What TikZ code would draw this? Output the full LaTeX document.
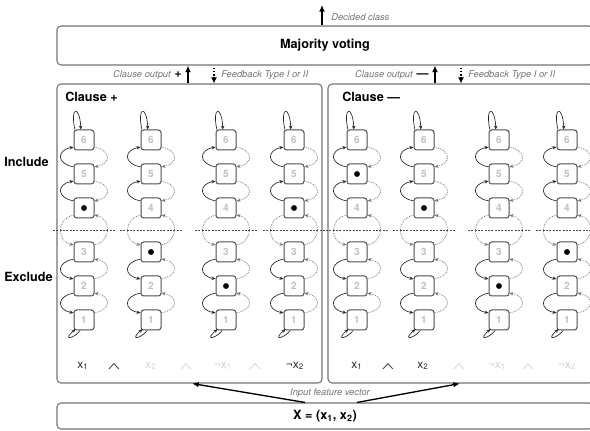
\documentclass[tikz,border=0pt]{standalone}
\usepackage{fontspec}
\setmainfont{TeX Gyre Heros}
\usetikzlibrary{arrows.meta,calc}
\begin{document}
\begin{tikzpicture}[x=0.75pt,y=-0.75pt,
  >={Stealth[length=3pt,width=2.6pt]},
  panel/.style={draw=black!55,line width=0.8pt,rounded corners=3pt,inner sep=0pt},
  st/.style={draw=black!70,line width=0.75pt,rounded corners=2pt,minimum size=15pt,inner sep=0pt,font=\fontsize{7.5}{8}\selectfont\bfseries,text=black!25},
  solarc/.style={draw=black!85,line width=0.5pt},
  dotarc/.style={draw=black!55,line width=0.5pt,dash pattern=on 0.7pt off 0.7pt},
  solup/.style={solarc,<-},
  soldn/.style={solarc,->},
  dotup/.style={dotarc,<-},
  dotdn/.style={dotarc,->},
  hline/.style={draw=black!70,line width=0.5pt,dash pattern=on 1.5pt off 1pt},
  lbl/.style={font=\fontsize{7}{8}\selectfont\itshape,text=black!55,inner sep=0pt},
  hdr/.style={font=\fontsize{9.5}{11}\selectfont\bfseries,inner sep=0pt},
  litdark/.style={font=\fontsize{9}{10}\selectfont,text=black!85,inner sep=0pt},
  litlight/.style={font=\fontsize{9}{10}\selectfont,text=black!18,inner sep=0pt},
  bigarr/.style={draw=black,line width=1.2pt,-{Latex[length=5pt,width=4.5pt]}},
  fbarr/.style={draw=black,line width=0.9pt,dash pattern=on 1.2pt off 1.2pt,-{Latex[length=4.5pt,width=4.5pt]}},
  inarr/.style={draw=black,line width=1pt,-{Latex[length=5pt,width=4pt]}}
]
\path[use as bounding box] (0,0) rectangle (590,431);
\clip (0,0) rectangle (590,431);

% main boxes
\node[panel,hdr,minimum width=402pt,minimum height=29.25pt] (mv) at (325,45.5) {Majority voting};
\node[panel,minimum width=198.75pt,minimum height=224.25pt] (cp) at (189.5,233.5) {};
\node[panel,minimum width=198.75pt,minimum height=224.25pt] (cm) at (460.5,233.5) {};
\node[panel,hdr,minimum width=402pt,minimum height=19.5pt] (xin) at (325,416) {X = (x\textsubscript{1}, x\textsubscript{2})};

% top arrows and labels
\coordinate (dc) at (322,5);
\draw[bigarr] ([xshift=-2.25pt]mv.north) -- (dc);
\node[lbl,anchor=west] (dcl) at (331,17) {Decided class};

\draw[bigarr] ([xshift=-1.125pt]cp.north) -- ([xshift=-1.125pt]cp.north |- mv.south);
\draw[fbarr] ([xshift=18.375pt,yshift=-1.5pt]cp.north |- mv.south) -- ([xshift=18.375pt]cp.north);
\node[lbl,anchor=east] (cop) at (182,75.5) {Clause output\hspace{3pt}{\upshape\bfseries\color{black}\fontsize{9}{9}\selectfont +}};
\node[lbl,anchor=west] (fbp) at (221,75.5) {Feedback Type I or II};

\draw[bigarr] ([xshift=-19.125pt]cm.north) -- ([xshift=-19.125pt]cm.north |- mv.south);
\draw[fbarr] ([xshift=0.375pt,yshift=-1.5pt]cm.north |- mv.south) -- ([xshift=0.375pt]cm.north);
\node[lbl,anchor=east] (com) at (429,75.5) {Clause output\hspace{3pt}{\upshape\bfseries\color{black}\fontsize{9}{9}\selectfont —}};
\node[lbl,anchor=west] (fbm) at (468,75.5) {Feedback Type I or II};

% headers
\node[hdr,anchor=west] (hp) at (65,97) {Clause +};
\node[hdr,anchor=west] (hm) at (342,97) {Clause —};
\node[hdr,anchor=west] (inc) at (4,162) {Include};
\node[hdr,anchor=west] (exc) at (4,277) {Exclude};

% bottom arrows
\node[lbl] (ifv) at (330,393) {Input feature vector};
\draw[inarr] ([xshift=-15pt]xin.north) -- ([xshift=1.875pt]cp.south);
\draw[inarr] ([xshift=24pt]xin.north) -- ([xshift=-0.375pt]cm.south);

% automata columns
\foreach \cx/\dd/\k in {84/4/a,151/3/b,226/2/c,294/4/d,357/5/e,424/4/f,499/2/g,567/3/h}{
  \draw[hline] (\cx-31,230) -- (\cx+31,230);
  \foreach \s/\yy in {6/140,5/174,4/208,3/252,2/286,1/320}{
    \node[st] (s\k\s) at (\cx,\yy) {\ifnum\s=\dd\else\s\fi};
    \ifnum\s=\dd \fill[black] (s\k\s.center) circle (2.2pt);\fi
  }
  \foreach \u/\l/\lt/\rt in {6/5/solup/dotdn,5/4/solup/dotdn,4/3/dotdn/dotup,3/2/soldn/dotup,2/1/soldn/dotup}{
    \draw[\lt] ([yshift=2.5pt]s\k\u.south west) .. controls +(-17,3) and +(-17,-3) .. ([yshift=-2.5pt]s\k\l.north west);
    \draw[\rt] ([yshift=2.5pt]s\k\u.south east) .. controls +(17,3) and +(17,-3) .. ([yshift=-2.5pt]s\k\l.north east);
  }
  \draw[soldn] ([xshift=1pt]s\k6.north west) .. controls +(-5,-24) and +(-1,-24) .. ([xshift=5.5pt]s\k6.north west);
  \draw[solup] ([xshift=1.5pt,yshift=1pt]s\k1.south west) .. controls +(-14,12) and +(-6,8) .. ([xshift=5pt]s\k1.south west);
}

% literals
\foreach \xx/\t/\sty/\n in {83/{x\textsubscript{1}}/litdark/l1,151/{x\textsubscript{2}}/litlight/l2,223/{¬x\textsubscript{1}}/litlight/l3,295/{¬x\textsubscript{2}}/litdark/l4,357/{x\textsubscript{1}}/litdark/l5,423/{x\textsubscript{2}}/litdark/l6,497/{¬x\textsubscript{1}}/litlight/l7,567/{¬x\textsubscript{2}}/litlight/l8}{
  \node[\sty] (\n) at (\xx,366) {\t};
}
\foreach \xx/\sty/\n in {114/litdark/w1,186/litlight/w2,255/litlight/w3,388/litdark/w4,459/litlight/w5,528/litlight/w6}{
  \node[\sty,font=\fontsize{9}{9}\selectfont\boldmath] (\n) at (\xx,367) {\scalebox{1.35}[0.8]{$\wedge$}};
}
\end{tikzpicture}
\end{document}
